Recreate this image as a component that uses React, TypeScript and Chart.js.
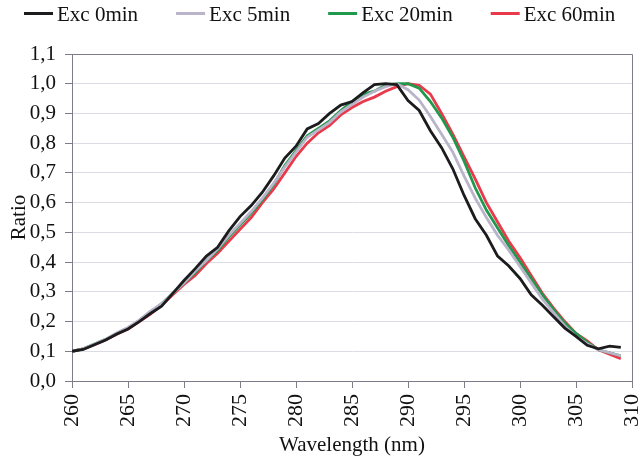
import React, { useEffect, useRef } from "react";
import { Chart, registerables } from "chart.js";

Chart.register(...registerables);

const WAVELENGTHS = [
  260, 261, 262, 263, 264, 265, 266, 267, 268, 269,
  270, 271, 272, 273, 274, 275, 276, 277, 278, 279,
  280, 281, 282, 283, 284, 285, 286, 287, 288, 289,
  290, 291, 292, 293, 294, 295, 296, 297, 298, 299,
  300, 301, 302, 303, 304, 305, 306, 307, 308, 309,
];

const EXC_0 = [
  0.10, 0.106, 0.122, 0.138, 0.158, 0.175, 0.2, 0.227, 0.252, 0.295,
  0.338, 0.378, 0.42, 0.45, 0.505, 0.553, 0.59, 0.635, 0.69, 0.75,
  0.79, 0.848, 0.866, 0.9, 0.928, 0.94, 0.97, 0.997, 1.0, 0.997,
  0.943, 0.91, 0.842, 0.785, 0.714, 0.625, 0.546, 0.49, 0.42, 0.387,
  0.345, 0.29, 0.255, 0.216, 0.178, 0.15, 0.12, 0.108, 0.117, 0.113,
];

const EXC_5 = [
  0.10, 0.108, 0.124, 0.14, 0.162, 0.18, 0.205, 0.235, 0.26, 0.295,
  0.33, 0.37, 0.405, 0.445, 0.49, 0.53, 0.57, 0.615, 0.665, 0.72,
  0.77, 0.82, 0.845, 0.87, 0.905, 0.93, 0.955, 0.975, 0.99, 1.0,
  0.98, 0.945, 0.89, 0.83, 0.77, 0.69, 0.615, 0.55, 0.49, 0.44,
  0.385, 0.33, 0.275, 0.23, 0.185, 0.15, 0.125, 0.105, 0.095, 0.085,
];

const EXC_20 = [
  0.10, 0.108, 0.124, 0.14, 0.16, 0.178, 0.203, 0.23, 0.26, 0.295,
  0.33, 0.365, 0.405, 0.44, 0.485, 0.525, 0.565, 0.61, 0.66, 0.725,
  0.775, 0.825, 0.85, 0.875, 0.91, 0.94, 0.965, 0.975, 0.995, 1.0,
  1.0, 0.985, 0.94, 0.885, 0.82, 0.74, 0.65, 0.575, 0.515, 0.455,
  0.40, 0.345, 0.29, 0.24, 0.195, 0.16, 0.13, 0.105, 0.095, 0.085,
];

const EXC_60 = [
  0.10, 0.108, 0.122, 0.138, 0.157, 0.175, 0.2, 0.225, 0.255, 0.29,
  0.325, 0.355, 0.395, 0.43, 0.47, 0.51, 0.55, 0.6, 0.645, 0.7,
  0.755, 0.8, 0.835, 0.86, 0.895, 0.92, 0.94, 0.955, 0.975, 0.99,
  1.0, 0.995, 0.965, 0.9, 0.83, 0.755, 0.68, 0.6, 0.535, 0.47,
  0.415, 0.355, 0.295, 0.245, 0.2, 0.16, 0.135, 0.105, 0.09, 0.075,
];

const SERIES_LABELS = ["Exc 0min", "Exc 5min", "Exc 20min", "Exc 60min"];
const SERIES_VALUES = [EXC_0, EXC_5, EXC_20, EXC_60];
const SERIES_COLORS = ["#1c1c1e", "#b9b4ca", "#22984c", "#e83a4b"];

const X_TITLE = "Wavelength (nm)";
const Y_TITLE = "Ratio";

const FONT = '"Liberation Serif", "Times New Roman", serif';
const AXIS_DARK = "#7d7d8a";
const GRID_LIGHT = "#dcdce4";

const legendPlugin = {
  id: "topLegend",
  afterDraw(chart: any) {
    const ctx = chart.ctx;
    ctx.save();
    ctx.font = `21px ${FONT}`;
    ctx.textBaseline = "middle";
    ctx.textAlign = "left";
    let x = 24;
    const lineY = 13.5;
    chart.data.datasets.forEach((ds: any) => {
      ctx.strokeStyle = ds.borderColor;
      ctx.lineWidth = 3;
      ctx.beginPath();
      ctx.moveTo(x, lineY);
      ctx.lineTo(x + 29, lineY);
      ctx.stroke();
      x += 33;
      ctx.fillStyle = "#111";
      ctx.fillText(ds.label, x, 15);
      x += ctx.measureText(ds.label).width + 38;
    });
    ctx.restore();
  },
};

const framePlugin = {
  id: "frame",
  beforeDatasetsDraw(chart: any) {
    const { ctx, chartArea } = chart;
    ctx.save();
    ctx.strokeStyle = AXIS_DARK;
    ctx.lineWidth = 1;
    const l = Math.round(chartArea.left) + 0.5;
    const r = Math.round(chartArea.right) + 0.5;
    const t = Math.round(chartArea.top) + 0.5;
    const b = Math.round(chartArea.bottom) + 0.5;
    ctx.beginPath();
    ctx.moveTo(l, t);
    ctx.lineTo(r, t);
    ctx.lineTo(r, b);
    ctx.stroke();
    ctx.restore();
  },
};

export default function App() {
  const canvasRef = useRef<HTMLCanvasElement | null>(null);

  useEffect(() => {
    if (!canvasRef.current) return;
    const datasets = SERIES_LABELS.map((label, i) => ({
      label,
      data: WAVELENGTHS.map((w, j) => ({ x: w, y: SERIES_VALUES[i][j] })),
      borderColor: SERIES_COLORS[i],
      backgroundColor: SERIES_COLORS[i],
      borderWidth: 2.8,
      pointRadius: 0,
      tension: 0,
      fill: false,
    }));

    const chart = new Chart(canvasRef.current, {
      type: "line",
      data: { datasets },
      plugins: [legendPlugin, framePlugin],
      options: {
        responsive: false,
        animation: false,
        layout: { padding: { top: 54, right: 8, left: 0, bottom: 0 } },
        plugins: {
          legend: { display: false },
          tooltip: { enabled: false },
        },
        scales: {
          x: {
            type: "linear",
            min: 260,
            max: 310,
            afterFit: (scale: any) => {
              scale.height = 80;
              scale.paddingLeft = 0;
              scale.paddingRight = 0;
            },
            border: { color: AXIS_DARK, width: 1 },
            grid: {
              drawOnChartArea: false,
              drawTicks: true,
              tickLength: 7,
              tickColor: AXIS_DARK,
            },
            ticks: {
              stepSize: 5,
              minRotation: 90,
              maxRotation: 90,
              padding: 6,
              color: "#111",
              font: { family: FONT, size: 22 },
              callback: (v: any) => String(v),
            },
            title: {
              display: true,
              text: X_TITLE,
              color: "#111",
              font: { family: FONT, size: 21 },
              padding: { top: 0, bottom: 3 },
            },
          },
          y: {
            min: 0,
            max: 1.1,
            afterFit: (scale: any) => {
              scale.width = 72;
            },
            border: { color: AXIS_DARK, width: 1 },
            grid: {
              color: (c: any) =>
                c.tick && Math.abs(c.tick.value - 1.1) < 1e-6 ? AXIS_DARK : GRID_LIGHT,
              lineWidth: 1,
              tickLength: 7,
              tickColor: AXIS_DARK,
            },
            ticks: {
              stepSize: 0.1,
              padding: 9,
              color: "#111",
              font: { family: FONT, size: 21 },
              callback: (v: any) => Number(v).toFixed(1).replace(".", ","),
            },
            title: {
              display: true,
              text: Y_TITLE,
              color: "#111",
              font: { family: FONT, size: 21 },
              padding: { top: 7, bottom: 0 },
            },
          },
        },
      },
    });
    return () => chart.destroy();
  }, []);

  return (
    <div style={{ position: "fixed", left: 0, top: 0, width: 640, height: 461, background: "#fff" }}>
      <canvas ref={canvasRef} width={640} height={461} />
    </div>
  );
}
